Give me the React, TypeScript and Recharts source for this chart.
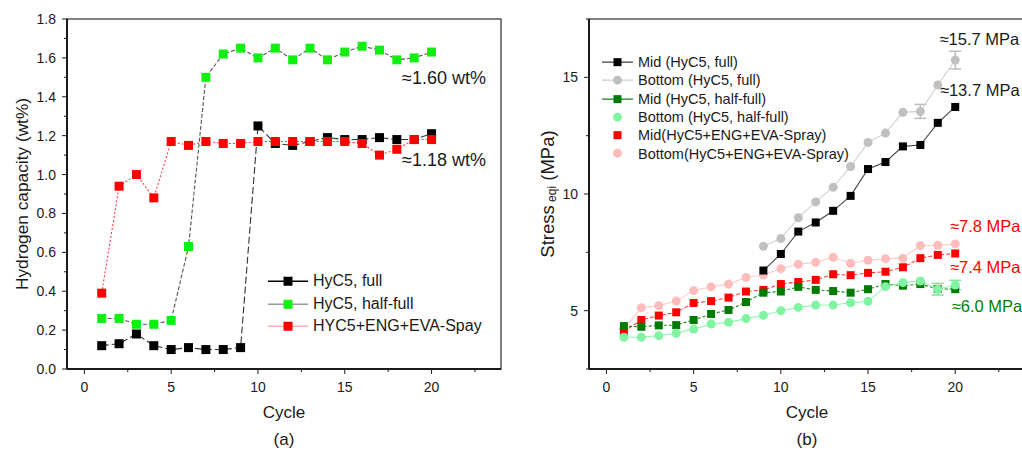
import React from "react";
import {
  LineChart,
  Line,
  XAxis,
  YAxis,
  ReferenceArea,
  ReferenceDot,
  Legend,
  Label,
  ErrorBar,
} from "recharts";

const FONT = "'Liberation Sans', Arial, sans-serif";
const INK = "#1a1a1a";

const cycles = [1, 2, 3, 4, 5, 6, 7, 8, 9, 10, 11, 12, 13, 14, 15, 16, 17, 18, 19, 20];

// (a) hydrogen capacity, wt%
const capFull = [0.12, 0.13, 0.18, 0.12, 0.1, 0.11, 0.1, 0.1, 0.11, 1.25, 1.16, 1.15, 1.17, 1.19, 1.18, 1.18, 1.19, 1.18, 1.18, 1.21];
const capHalf = [0.26, 0.26, 0.23, 0.23, 0.25, 0.63, 1.5, 1.62, 1.65, 1.6, 1.65, 1.59, 1.65, 1.59, 1.63, 1.66, 1.64, 1.59, 1.6, 1.63];
const capSpray = [0.39, 0.94, 1.0, 0.88, 1.17, 1.15, 1.17, 1.16, 1.16, 1.17, 1.17, 1.17, 1.17, 1.17, 1.17, 1.16, 1.1, 1.13, 1.18, 1.18];

// (b) equivalent stress, MPa
const midFull = [null, null, null, null, null, null, null, null, 6.72, 7.43, 8.39, 8.78, 9.28, 9.92, 11.07, 11.37, 12.04, 12.1, 13.05, 13.73];
const botFull = [null, null, null, null, null, null, null, null, 7.76, 8.09, 8.98, 9.66, 10.29, 11.18, 12.21, 12.61, 13.5, 13.54, 14.67, 15.74];
const botFullErr = [null, null, null, null, null, null, null, null, null, null, null, null, null, null, null, null, null, 0.3, null, 0.38];
const midHalf = [4.34, 4.31, 4.37, 4.38, 4.6, 4.86, 5.03, 5.37, 5.77, 5.82, 6.02, 5.89, 5.84, 5.77, 5.92, 6.14, 6.07, 6.14, 5.93, 5.92];
const botHalf = [3.86, 3.86, 3.93, 4.03, 4.21, 4.43, 4.5, 4.66, 4.8, 5.0, 5.14, 5.24, 5.24, 5.34, 5.4, 6.03, 6.2, 6.27, 5.92, 6.1];
const botHalfErr = [null, null, null, null, null, null, null, null, null, null, null, null, null, null, null, null, null, null, 0.25, 0.2];
const midSpray = [4.1, 4.6, 4.79, 4.93, 5.33, 5.41, 5.56, 5.82, 5.89, 6.14, 6.23, 6.32, 6.56, 6.52, 6.62, 6.67, 6.86, 7.25, 7.39, 7.45];
const botSpray = [4.2, 5.13, 5.21, 5.41, 5.86, 6.02, 6.14, 6.42, 6.53, 6.8, 6.99, 7.07, 7.29, 7.03, 7.16, 7.23, 7.25, 7.79, 7.8, 7.86];

const xTicks = [0, 2.5, 5, 7.5, 10, 12.5, 15, 17.5, 20, 22.5];
const yTicksA = [0, 0.1, 0.2, 0.3, 0.4, 0.5, 0.6, 0.7, 0.8, 0.9, 1.0, 1.1, 1.2, 1.3, 1.4, 1.5, 1.6, 1.7, 1.8];
const yTicksB = [2.5, 5, 7.5, 10, 12.5, 15, 17.5];

const rowsA = cycles.map((c, i) => ({ cycle: c, full: capFull[i], half: capHalf[i], spray: capSpray[i] }));
const rowsB = cycles.map((c, i) => ({
  cycle: c,
  midFull: midFull[i],
  botFull: botFull[i],
  botFullErr: botFullErr[i],
  midHalf: midHalf[i],
  botHalf: botHalf[i],
  botHalfErr: botHalfErr[i],
  midSpray: midSpray[i],
  botSpray: botSpray[i],
}));

type Series = {
  key: string;
  name: string;
  shape: "square" | "circle";
  fill: string;
  line: string;
  dash?: string;
  legendLine?: string;
  size: number;
};

const seriesA: Series[] = [
  { key: "full", name: "HyC5, full", shape: "square", fill: "#000", line: "#333", dash: "7 3", legendLine: "#000", size: 9 },
  { key: "half", name: "HyC5, half-full", shape: "square", fill: "#10f010", line: "#555", dash: "4 2", legendLine: "#9a9a9a", size: 9 },
  { key: "spray", name: "HYC5+ENG+EVA-Spay", shape: "square", fill: "#ff0000", line: "#ff3b3b", dash: "2 2", legendLine: "#ffb0b0", size: 9 },
];

const seriesB: Series[] = [
  { key: "midFull", name: "Mid (HyC5, full)", shape: "square", fill: "#000", line: "#444", legendLine: "#444", size: 8 },
  { key: "botFull", name: "Bottom (HyC5, full)", shape: "circle", fill: "#c0c0c0", line: "#d0d0d0", legendLine: "#d0d0d0", size: 9 },
  { key: "midHalf", name: "Mid (HyC5, half-full)", shape: "square", fill: "#007a00", line: "#1a8a1a", dash: "3 2", legendLine: "#1a8a1a", size: 8 },
  { key: "botHalf", name: "Bottom (HyC5, half-full)", shape: "circle", fill: "#80f4a2", line: "#90f4b0", size: 9 },
  { key: "midSpray", name: "Mid(HyC5+ENG+EVA-Spray)", shape: "square", fill: "#ff0000", line: "#ff4040", dash: "4 2", size: 8 },
  { key: "botSpray", name: "Bottom(HyC5+ENG+EVA-Spray)", shape: "circle", fill: "#ffbcbc", line: "#ffcaca", size: 9 },
];
// paint order for panel (b)
const drawOrderB = ["botSpray", "midSpray", "botFull", "midFull", "midHalf", "botHalf"];

const marker = (s: Series) => (p: any) => {
  const { cx, cy, index } = p;
  if (cx == null || cy == null || p.value == null) return <g key={`m${index}`} />;
  if (s.shape === "square")
    return <rect key={`m${index}`} x={cx - s.size / 2} y={cy - s.size / 2} width={s.size} height={s.size} fill={s.fill} />;
  return <circle key={`m${index}`} cx={cx} cy={cy} r={s.size / 2} fill={s.fill} />;
};

const XTick = (p: any) => {
  const { x, y, payload } = p;
  const v = payload.value;
  const major = v % 5 === 0;
  return (
    <g>
      <line x1={x} y1={y} x2={x} y2={y + (major ? 5 : 3)} stroke={INK} />
      {major && (
        <text x={x} y={y + 23} textAnchor="middle" fontSize={14} fill={INK} fontFamily={FONT}>
          {v}
        </text>
      )}
    </g>
  );
};

const yTick = (isMajor: (v: number) => boolean, fmt: (v: number) => string) => (p: any) => {
  const { x, y, payload } = p;
  const v = payload.value;
  const major = isMajor(v);
  return (
    <g>
      <line x1={x} y1={y} x2={x - (major ? 5 : 3)} y2={y} stroke={INK} />
      {major && (
        <text x={x - 11} y={y + 5} textAnchor="end" fontSize={14} fill={INK} fontFamily={FONT}>
          {fmt(v)}
        </text>
      )}
    </g>
  );
};

const YTitle = (dx: number, sub?: boolean) => (p: any) => {
  const { x, y, height } = p.viewBox;
  const cx = x + dx;
  const cy = y + height / 2;
  return (
    <text
      x={cx}
      y={cy}
      transform={`rotate(-90 ${cx} ${cy})`}
      textAnchor="middle"
      dominantBaseline="central"
      fontSize={sub ? 18.5 : 17.3}
      fill={INK}
      fontFamily={FONT}
    >
      {sub ? (
        <>
          Stress
          <tspan dy={5} fontSize={12}>
            {" eqi"}
          </tspan>
          <tspan dy={-5}> (MPa)</tspan>
        </>
      ) : (
        "Hydrogen capacity (wt%)"
      )}
    </text>
  );
};

const LegendBox = ({ items, rowH, fontSize, lineW }: { items: Series[]; rowH: number; fontSize: number; lineW: number }) => (
  <div style={{ fontFamily: FONT, fontSize, color: INK }}>
    {items.map((it) => (
      <div key={it.key} style={{ display: "flex", alignItems: "center", height: rowH, whiteSpace: "nowrap" }}>
        <svg width={lineW} height={rowH} style={{ marginRight: 5, flex: "none" }}>
          {it.legendLine && (
            <line x1={0} x2={lineW} y1={rowH / 2} y2={rowH / 2} stroke={it.legendLine} strokeWidth={1.3} />
          )}
          {it.shape === "square" ? (
            <rect x={lineW / 2 - it.size / 2} y={rowH / 2 - it.size / 2} width={it.size} height={it.size} fill={it.fill} />
          ) : (
            <circle cx={lineW / 2} cy={rowH / 2} r={it.size / 2} fill={it.fill} />
          )}
        </svg>
        <span>{it.name}</span>
      </div>
    ))}
  </div>
);

const xLabels = (tag: string) => [
  <Label key="t" value="Cycle" position="insideTop" offset={37} fontSize={17} fill={INK} fontFamily={FONT} />,
  <Label key="p" value={tag} position="insideTop" offset={64} fontSize={17} fill={INK} fontFamily={FONT} />,
];

const notesA = [
  { x: 18.3, y: 1.5, text: "≈1.60 wt%", color: INK },
  { x: 18.3, y: 1.075, text: "≈1.18 wt%", color: INK },
];
const notesB = [
  { x: 19.1, y: 16.62, text: "≈15.7 MPa", color: INK },
  { x: 19.12, y: 14.44, text: "≈13.7 MPa", color: INK },
  { x: 19.7, y: 8.64, text: "≈7.8 MPa", color: "#ff0000" },
  { x: 19.7, y: 6.88, text: "≈7.4 MPa", color: "#ff0000" },
  { x: 19.8, y: 5.2, text: "≈6.0 MPa", color: "#008000" },
];

function PanelA() {
  return (
    <LineChart width={520} height={459} data={rowsA} margin={{ top: 19, right: 19, left: 0, bottom: 0 }}>
      <ReferenceArea x1={-1} x2={24} y1={0} y2={1.8} fill="none" stroke="#555" strokeWidth={1.5} ifOverflow="visible" />
      <XAxis
        type="number"
        dataKey="cycle"
        domain={[-1, 24]}
        ticks={xTicks}
        interval={0}
        height={90}
        tickSize={0}
        tickMargin={0}
        tickLine={false}
        tick={XTick}
        axisLine={{ stroke: INK, strokeWidth: 2 }}
      >
        {xLabels("(a)")}
      </XAxis>
      <YAxis
        type="number"
        domain={[0, 1.8]}
        ticks={yTicksA}
        interval={0}
        width={67}
        tickSize={0}
        tickMargin={0}
        tickLine={false}
        tick={yTick((v) => Math.round(v * 10) % 2 === 0, (v) => v.toFixed(1))}
        axisLine={{ stroke: INK, strokeWidth: 2 }}
      >
        <Label content={YTitle(22)} />
      </YAxis>
      {seriesA.map((s) => (
        <Line
          key={s.key}
          dataKey={s.key}
          name={s.name}
          type="linear"
          stroke={s.line}
          strokeWidth={1.1}
          strokeDasharray={s.dash}
          dot={marker(s)}
          activeDot={false}
          isAnimationActive={false}
        />
      ))}
      {notesA.map((n) => (
        <ReferenceDot
          key={n.text}
          x={n.x}
          y={n.y}
          r={0}
          fill="none"
          stroke="none"
          ifOverflow="visible"
          label={{ value: n.text, position: "right", offset: 0, fill: n.color, fontSize: 18, fontFamily: FONT }}
        />
      ))}
      <Legend
        layout="vertical"
        align="center"
        verticalAlign="middle"
        wrapperStyle={{ left: 268, top: 270, width: "auto", height: "auto" }}
        content={() => <LegendBox items={seriesA} rowH={22.5} fontSize={16} lineW={40} />}
      />
    </LineChart>
  );
}

function PanelB() {
  const ordered = drawOrderB.map((k) => seriesB.find((s) => s.key === k) as Series);
  return (
    <LineChart width={520} height={459} data={rowsB} margin={{ top: 19, right: 15, left: 0, bottom: 0 }}>
      <ReferenceArea x1={-1} x2={24} y1={2.5} y2={17.5} fill="none" stroke="#555" strokeWidth={1.5} ifOverflow="visible" />
      <XAxis
        type="number"
        dataKey="cycle"
        domain={[-1, 24]}
        ticks={xTicks}
        interval={0}
        height={90}
        tickSize={0}
        tickMargin={0}
        tickLine={false}
        tick={XTick}
        axisLine={{ stroke: INK, strokeWidth: 2 }}
      >
        {xLabels("(b)")}
      </XAxis>
      <YAxis
        type="number"
        domain={[2.5, 17.5]}
        ticks={yTicksB}
        interval={0}
        width={69}
        tickSize={0}
        tickMargin={0}
        tickLine={false}
        tick={yTick((v) => v % 5 === 0, (v) => String(v))}
        axisLine={{ stroke: INK, strokeWidth: 2 }}
      >
        <Label content={YTitle(27, true)} />
      </YAxis>
      {ordered.map((s) => (
        <Line
          key={s.key}
          dataKey={s.key}
          name={s.name}
          type="linear"
          stroke={s.line}
          strokeWidth={1.1}
          strokeDasharray={s.dash}
          dot={marker(s)}
          activeDot={false}
          isAnimationActive={false}
        >
          {s.key === "botFull" && <ErrorBar dataKey="botFullErr" width={6} stroke="#bdbdbd" direction="y" />}
          {s.key === "botHalf" && <ErrorBar dataKey="botHalfErr" width={6} stroke="#7be89a" direction="y" />}
        </Line>
      ))}
      {notesB.map((n) => (
        <ReferenceDot
          key={n.text}
          x={n.x}
          y={n.y}
          r={0}
          fill="none"
          stroke="none"
          ifOverflow="visible"
          label={{ value: n.text, position: "right", offset: 0, fill: n.color, fontSize: 16.5, fontFamily: FONT }}
        />
      ))}
      <Legend
        layout="vertical"
        align="center"
        verticalAlign="middle"
        wrapperStyle={{ left: 82, top: 53, width: "auto", height: "auto" }}
        content={() => <LegendBox items={seriesB} rowH={18.3} fontSize={14.5} lineW={31} />}
      />
    </LineChart>
  );
}

export default function App() {
  return (
    <div
      style={{
        position: "absolute",
        left: 0,
        top: 0,
        width: 1022,
        height: 459,
        overflow: "hidden",
        background: "#fff",
        fontFamily: FONT,
      }}
    >
      <div style={{ position: "absolute", left: 0, top: 0 }}>
        <PanelA />
      </div>
      <div style={{ position: "absolute", left: 520, top: 0 }}>
        <PanelB />
      </div>
    </div>
  );
}
